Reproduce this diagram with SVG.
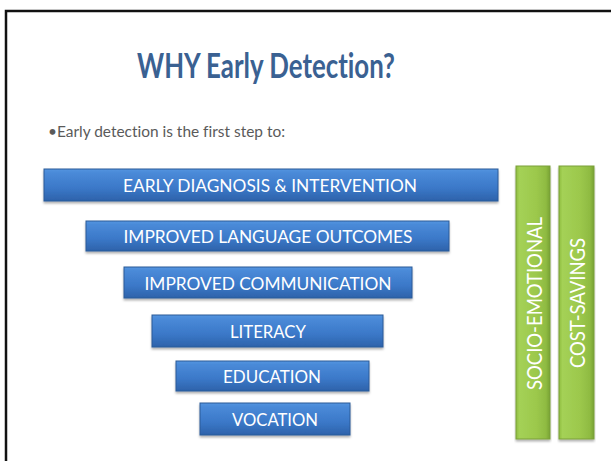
<svg xmlns="http://www.w3.org/2000/svg" width="611" height="461" viewBox="0 0 611 461">
<defs>
<linearGradient id="blue" x1="0" y1="0" x2="0" y2="1">
<stop offset="0" stop-color="#5595e0"/>
<stop offset="0.12" stop-color="#4a8ad8"/>
<stop offset="0.6" stop-color="#3b78c8"/>
<stop offset="1" stop-color="#2d62aa"/>
</linearGradient>
<linearGradient id="green" x1="0" y1="0" x2="1" y2="0">
<stop offset="0" stop-color="#8fbd40"/>
<stop offset="0.1" stop-color="#a4d156"/>
<stop offset="0.6" stop-color="#9cc84c"/>
<stop offset="0.88" stop-color="#8fbb42"/>
<stop offset="1" stop-color="#78a232"/>
</linearGradient>
<filter id="sh" x="-5%" y="-20%" width="110%" height="150%">
<feDropShadow dx="0" dy="2" stdDeviation="1.2" flood-color="#000" flood-opacity="0.3"/>
</filter>
</defs>
<style>
text{font-variant-ligatures:none}
.bar{fill:url(#blue);stroke:#2a5a98;stroke-width:1;filter:url(#sh)}
.gbar{fill:url(#green);stroke:#7a9f3a;stroke-width:1;filter:url(#sh)}
.bt{font-family:Lato,"Liberation Sans",Arial,sans-serif;font-size:17.5px;fill:#ffffff;text-anchor:middle}
.gt{font-family:Lato,"Liberation Sans",Arial,sans-serif;font-size:20.5px;fill:#ffffff;text-anchor:middle}
</style>
<rect x="0" y="0" width="611" height="461" fill="#ffffff"/>
<rect x="6" y="11" width="620" height="470" fill="none" stroke="#111111" stroke-width="2.5"/>
<text x="266" y="78" font-family="Lato,'Liberation Sans',Arial,sans-serif" font-weight="bold" font-size="34" fill="#3a6192" text-anchor="middle" textLength="258" lengthAdjust="spacingAndGlyphs">WHY Early Detection?</text>
<text x="48" y="137" font-family="Lato,'Liberation Sans',Arial,sans-serif" font-size="15.5" fill="#5a5a5a" textLength="237" lengthAdjust="spacingAndGlyphs">•Early detection is the first step to:</text>
<g id="bar1"><rect class="bar" x="44" y="169" width="454" height="32"/><text class="bt" x="270" y="192" textLength="294" lengthAdjust="spacingAndGlyphs">EARLY DIAGNOSIS &amp; INTERVENTION</text></g>
<g id="bar2"><rect class="bar" x="86" y="221" width="363" height="30"/><text class="bt" x="268" y="243" textLength="289" lengthAdjust="spacingAndGlyphs">IMPROVED LANGUAGE OUTCOMES</text></g>
<g id="bar3"><rect class="bar" x="124" y="267" width="288" height="31"/><text class="bt" x="268" y="290" textLength="247" lengthAdjust="spacingAndGlyphs">IMPROVED COMMUNICATION</text></g>
<g id="bar4"><rect class="bar" x="152" y="315" width="231" height="32"/><text class="bt" x="268" y="338" textLength="76" lengthAdjust="spacingAndGlyphs">LITERACY</text></g>
<g id="bar5"><rect class="bar" x="176" y="361" width="193" height="30"/><text class="bt" x="272" y="383" textLength="98" lengthAdjust="spacingAndGlyphs">EDUCATION</text></g>
<g id="bar6"><rect class="bar" x="200" y="403" width="150" height="32"/><text class="bt" x="275" y="426" textLength="86" lengthAdjust="spacingAndGlyphs">VOCATION</text></g>
<g id="socio"><rect class="gbar" x="516" y="166" width="34" height="273"/><text class="gt" transform="translate(542,303.5) rotate(-90)" textLength="173" lengthAdjust="spacingAndGlyphs">SOCIO-EMOTIONAL</text></g>
<g id="cost"><rect class="gbar" x="559" y="166" width="35" height="273"/><text class="gt" transform="translate(585,303) rotate(-90)" textLength="130" lengthAdjust="spacingAndGlyphs">COST-SAVINGS</text></g>
<g id="connectors"></g>
</svg>
